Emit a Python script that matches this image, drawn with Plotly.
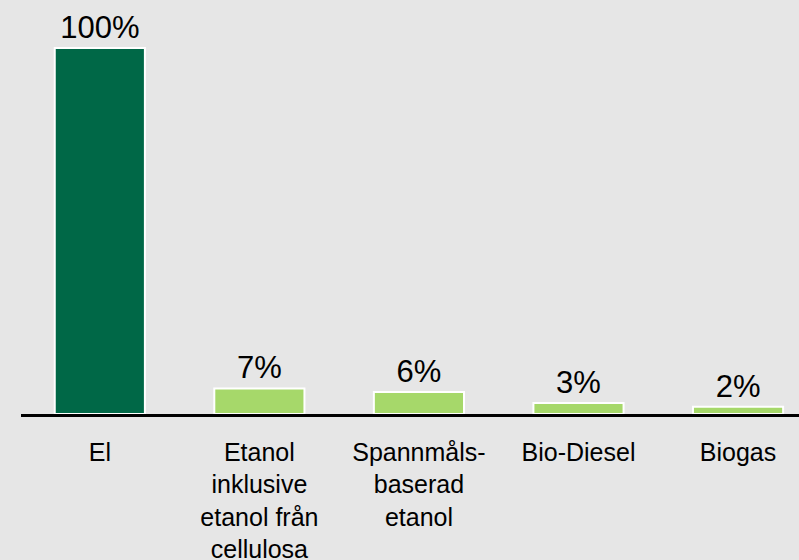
import plotly.graph_objects as go

categories = ["El", "Etanol<br>inklusive<br>etanol från<br>cellulosa", "Spannmåls-<br>baserad<br>etanol", "Bio-Diesel", "Biogas"]
values = [100, 7, 6, 3, 2]
labels = ["100%", "7%", "6%", "3%", "2%"]
colors = ["#006847", "#a6d86a", "#a6d86a", "#a6d86a", "#a6d86a"]

x = list(range(len(categories)))

fig = go.Figure(go.Bar(
    x=x, y=values, width=0.565,
    marker=dict(color=colors, line=dict(color="white", width=2)),
    text=labels, textposition="outside", constraintext="none", cliponaxis=False,
    textfont=dict(family="Liberation Sans, Arial, sans-serif", size=31, color="black"),
    hoverinfo="skip",
))

fig.update_layout(
    width=799, height=560,
    margin=dict(l=21, r=0, t=0, b=146),
    paper_bgcolor="#e6e6e6", plot_bgcolor="#e6e6e6",
    showlegend=False,
    font=dict(family="Liberation Sans, Arial, sans-serif", color="black"),
)
fig.update_xaxes(
    range=[-0.494, 4.382], tickmode="array", tickvals=x, ticktext=categories,
    showline=True, linecolor="black", linewidth=2.5, ticks="", showgrid=False,
    tickfont=dict(size=25, color="black"), zeroline=False, fixedrange=True,
    ticklabelstandoff=14, automargin=False,
)
fig.update_yaxes(range=[0, 113.1], visible=False, showgrid=False, zeroline=False,
                 fixedrange=True, automargin=False)

fig.write_html(
    "out.html",
    config={"displayModeBar": False, "staticPlot": True},
    post_script="document.body.style.margin='0';document.body.style.padding='0';document.body.style.overflow='hidden';",
)
